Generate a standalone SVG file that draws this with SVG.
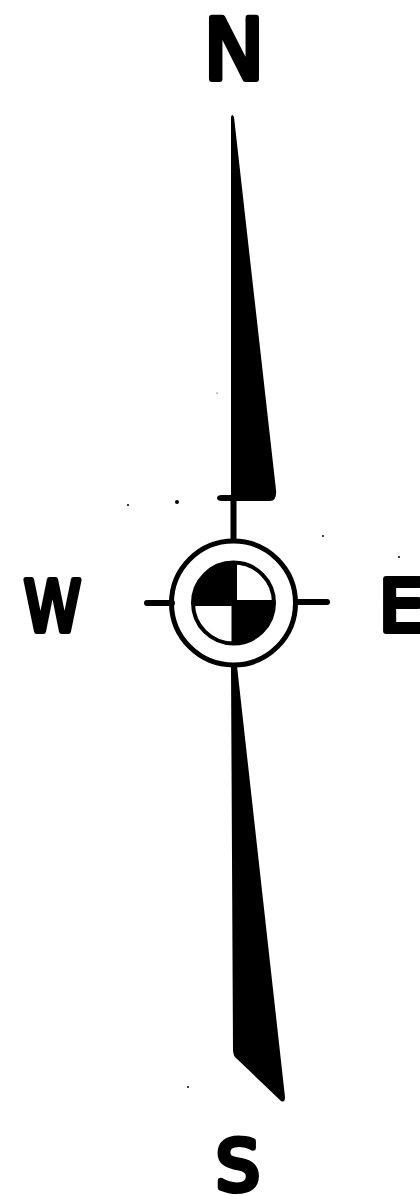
<svg xmlns="http://www.w3.org/2000/svg" width="420" height="1196" viewBox="0 0 420 1196">
<style>
.l{font-family:"DejaVu Sans","Liberation Sans",sans-serif;font-weight:400;fill:#000;stroke:#000;stroke-width:6;stroke-linejoin:round;stroke-linecap:round}
.t{stroke:#000;stroke-width:6;stroke-linecap:round;fill:none}
.d{fill:#000}
</style>
<rect width="420" height="1196" fill="#fff"/>
<text class="l" x="204" y="79" font-size="83" textLength="60" lengthAdjust="spacingAndGlyphs">N</text>
<text class="l" x="24" y="631" font-size="70" textLength="57" lengthAdjust="spacingAndGlyphs">W</text>
<text class="l" x="379" y="631" font-size="72">E</text>
<text class="l" x="216" y="1190" font-size="69">S</text>
<path class="d" d="M231 117Q232 113 234 117L276 490Q277 501 270 501L222 501Q217 501 217 498Q217 495 222 495L231 495Z"/>
<path class="t" d="M233.500 500V542"/>
<path class="d" d="M231 666H237L285 1097Q285 1103 281 1101L236 1058Q233 1055 233 1050Z"/>
<circle cx="233.500" cy="603" r="62" fill="#fff" stroke="#000" stroke-width="5"/>
<path class="t" d="M147 603H172M298 602H327"/>
<circle cx="233.500" cy="603" r="40.500" fill="#fff" stroke="#000" stroke-width="4"/>
<path class="d" d="M237 562A41 41 0 0 0 193 606L231.500 606V644A41 41 0 0 0 275 600L237 600Z"/>
<circle class="d" cx="177" cy="502" r="2"/>
<circle class="d" cx="128" cy="505" r="1"/>
<circle class="d" cx="323" cy="536" r="1"/>
<circle class="d" cx="399" cy="557" r="1"/>
<circle class="d" cx="188" cy="1087" r="1"/>
<circle class="d" cx="217" cy="393" r=".6"/>
</svg>
